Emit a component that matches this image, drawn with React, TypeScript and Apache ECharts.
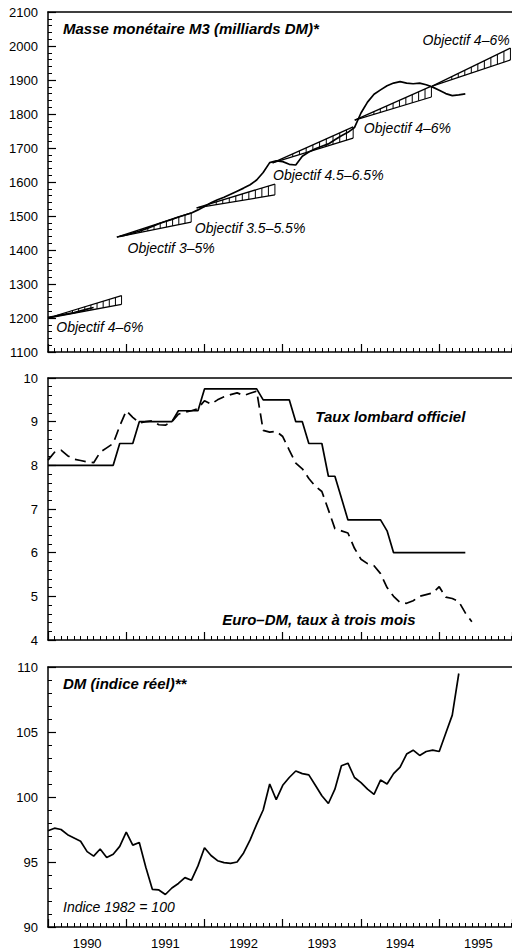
import React, { useEffect, useRef } from "react";
import * as echarts from "echarts";

// ---------- DATA ----------
const YEARS = [1990, 1991, 1992, 1993, 1994, 1995];

// M3 money stock (billion DM), monthly; index k = months after Dec 1989
const m3EarlyStart = 0;
const m3Early = [1202, 1205, 1209, 1212, 1216, 1221, 1226, 1231];
const m3LateStart = 11;
const m3Late = [
  1440, 1444, 1450, 1455, 1462, 1469, 1477, 1484, 1490, 1497, 1503, 1509,
  1518, 1528, 1539, 1548, 1555, 1564, 1573, 1582, 1592, 1606, 1628, 1657,
  1662, 1660, 1652, 1650, 1676, 1688, 1698, 1705, 1712, 1724, 1736, 1746,
  1760, 1803, 1835, 1858, 1871, 1883, 1891, 1895, 1891, 1889, 1891, 1886,
  1879, 1870, 1860, 1854, 1856, 1859,
];

// Target corridors: start date, end date, base value, lower end, upper end
const corridorStart = [1990.0, 1990.88, 1991.9, 1992.87, 1993.92, 1994.91];
const corridorEnd = [1990.94, 1991.83, 1992.9, 1993.9, 1994.9, 1995.91];
const corridorBase = [1200, 1438, 1524, 1656, 1782, 1882];
const corridorLow = [1240, 1482, 1562, 1729, 1850, 1959];
const corridorHigh = [1266, 1509, 1594, 1762, 1882, 1994];
const corridorNames = [
  "Objectif 4–6%",
  "Objectif 3–5%",
  "Objectif 3.5–5.5%",
  "Objectif 4.5–6.5%",
  "Objectif 4–6%",
  "Objectif 4–6%",
];
const corridorLabelX = [1990.1, 1991.01, 1991.87, 1992.87, 1994.03, 1994.78];
const corridorLabelY = [1173, 1406, 1465, 1621, 1759, 2018];

// Interest rates (%), monthly from Dec 1989
const lombardStart = 0;
const lombard = [
  8, 8, 8, 8, 8, 8, 8, 8, 8, 8, 8, 8.5, 8.5, 8.5, 9, 9, 9, 9, 9, 9, 9.25,
  9.25, 9.25, 9.25, 9.75, 9.75, 9.75, 9.75, 9.75, 9.75, 9.75, 9.75, 9.75, 9.5,
  9.5, 9.5, 9.5, 9.5, 9, 9, 8.5, 8.5, 8.5, 7.75, 7.75, 7.25, 6.75, 6.75, 6.75,
  6.75, 6.75, 6.75, 6.5, 6, 6, 6, 6, 6, 6, 6, 6, 6, 6, 6, 6,
];
const euroDmStart = 0;
const euroDm = [
  8.12, 8.3, 8.35, 8.22, 8.14, 8.11, 8.08, 8.06, 8.3, 8.4, 8.5, 8.9, 9.25,
  9.1, 8.97, 9.0, 9.02, 8.93, 8.92, 9.0, 9.17, 9.22, 9.25, 9.3, 9.48, 9.4,
  9.5, 9.57, 9.62, 9.66, 9.6, 9.65, 9.7, 8.8, 8.76, 8.78, 8.66, 8.35, 8.05,
  7.92, 7.7, 7.52, 7.4, 6.98, 6.55, 6.5, 6.45, 6.1, 5.85, 5.75, 5.7, 5.52,
  5.2, 5.0, 4.86, 4.84, 4.9, 5.0, 5.04, 5.08, 5.22, 4.98, 4.95, 4.88, 4.62,
  4.42,
];

// DM real effective index (1982 = 100), monthly from Dec 1989
const dmRealStart = 0;
const dmReal = [
  97.4, 97.6, 97.5, 97.1, 96.85, 96.6, 95.8, 95.45, 96.0, 95.35, 95.6, 96.2,
  97.3, 96.3, 96.5, 94.6, 92.9, 92.85, 92.5, 93.0, 93.35, 93.8, 93.6, 94.7,
  96.1, 95.5, 95.1, 94.95, 94.9, 95.0, 95.7, 96.7, 97.9, 99.0, 101.0, 99.8,
  100.9, 101.5, 102.0, 101.8, 101.7, 100.9, 100.1, 99.5, 100.6, 102.4, 102.6,
  101.5, 101.1, 100.6, 100.2, 101.3, 101.0, 101.8, 102.3, 103.3, 103.6, 103.2,
  103.5, 103.6, 103.5, 104.9, 106.3, 109.5,
];

const rateLabels = ["Taux lombard officiel", "Euro–DM, taux à trois mois"];
const rateLabelX = [1993.41, 1992.22];
const rateLabelY = [9.11, 4.46];

const m3Ticks = { min: 1100, max: 2100, interval: 100 };
const rateTicks = { min: 4, max: 10, interval: 1 };
const dmTicks = { min: 90, max: 110, interval: 5 };

// ---------- HELPERS ----------
const monthX = (k: number) => 1990 + k / 12;
const toPairs = (start: number, vals: number[]) =>
  vals.map((v, i) => [monthX(start + i), v]);

const FONT = '"Liberation Sans", Arial, Helvetica, sans-serif';
const X_MIN = 1990;
const X_MAX = 1995.93;
const CLEAR = "rgba(0,0,0,0)";

export default function App() {
  const ref = useRef<HTMLDivElement>(null);

  useEffect(() => {
    if (!ref.current) return;
    const chart = echarts.init(ref.current, undefined, { renderer: "svg" });

    const grids = [
      { left: 48, top: 12, width: 464, height: 340 },
      { left: 48, top: 378, width: 464, height: 262 },
      { left: 48, top: 667, width: 464, height: 260 },
    ];

    const xAxes: any[] = [];
    grids.forEach((_, i) => {
      xAxes.push({
        type: "value",
        gridIndex: i,
        position: "bottom",
        min: X_MIN,
        max: X_MAX,
        interval: 1,
        axisLine: { show: true, lineStyle: { color: "#000", width: 1.5 } },
        axisTick: { show: true, inside: true, length: 8, lineStyle: { color: "#000", width: 1.2 } },
        minorTick: { show: true, splitNumber: 12, length: 4, lineStyle: { color: "#000", width: 1 } },
        splitLine: { show: false },
        axisLabel:
          i === 2
            ? {
                show: true,
                customValues: YEARS.map((y) => y + 0.5),
                formatter: (v: number) => String(Math.floor(v)),
                color: "#000",
                fontSize: 13,
                fontFamily: FONT,
                margin: 10,
              }
            : { show: false },
      });
      xAxes.push({
        type: "value",
        gridIndex: i,
        position: "top",
        min: X_MIN,
        max: X_MAX,
        axisLine: { show: true, lineStyle: { color: "#000", width: 1.5 } },
        axisTick: { show: false },
        axisLabel: { show: false },
        splitLine: { show: false },
      });
    });

    const yCfg = (i: number, t: { min: number; max: number; interval: number }) => ({
      type: "value",
      gridIndex: i,
      min: t.min,
      max: t.max,
      interval: t.interval,
      axisLine: { show: true, lineStyle: { color: "#000", width: 1.5 } },
      axisTick: { show: true, inside: true, length: 8, lineStyle: { color: "#000", width: 1.2 } },
      minorTick: { show: true, splitNumber: 5, length: 4, lineStyle: { color: "#000", width: 1 } },
      splitLine: { show: false },
      axisLabel: {
        color: "#000",
        fontSize: 13,
        fontFamily: FONT,
        margin: 10,
        formatter: (v: number) => String(v),
      },
    });

    const corridorData = corridorStart.map((s, i) => [
      s,
      corridorEnd[i],
      corridorBase[i],
      corridorLow[i],
      corridorHigh[i],
    ]);

    const lineStyleBase = { color: "#000", width: 1.7 };

    const option: any = {
      animation: false,
      backgroundColor: "#fff",
      grid: grids,
      xAxis: xAxes,
      yAxis: [yCfg(0, m3Ticks), yCfg(1, rateTicks), yCfg(2, dmTicks)],
      graphic: [
        {
          type: "text",
          x: 63,
          y: 28,
          style: {
            text: "Masse monétaire M3 (milliards DM)*",
            font: `italic bold 15px ${FONT}`,
            fill: "#000",
            verticalAlign: "middle",
          },
        },
        {
          type: "text",
          x: 63,
          y: 683,
          style: {
            text: "DM (indice réel)**",
            font: `italic bold 15px ${FONT}`,
            fill: "#000",
            verticalAlign: "middle",
          },
        },
        {
          type: "text",
          x: 63,
          y: 907,
          style: {
            text: "Indice 1982 = 100",
            font: `italic 14px ${FONT}`,
            fill: "#000",
            verticalAlign: "middle",
          },
        },
      ],
      series: [
        {
          type: "custom",
          xAxisIndex: 0,
          yAxisIndex: 0,
          encode: { x: [0, 1], y: [2, 3, 4] },
          data: corridorData,
          silent: true,
          renderItem: (_params: any, api: any) => {
            const s = api.value(0);
            const e = api.value(1);
            const b = api.value(2);
            const lo = api.value(3);
            const hi = api.value(4);
            const p0 = api.coord([s, b]);
            const pl = api.coord([e, lo]);
            const ph = api.coord([e, hi]);
            const st = { stroke: "#000", lineWidth: 1.3, fill: null };
            const children: any[] = [
              { type: "polyline", shape: { points: [p0, pl] }, style: st },
              { type: "polyline", shape: { points: [p0, ph] }, style: st },
            ];
            const n = 12;
            for (let j = 3; j <= n; j++) {
              const t = j / n;
              children.push({
                type: "line",
                shape: {
                  x1: p0[0] + t * (pl[0] - p0[0]),
                  y1: p0[1] + t * (pl[1] - p0[1]),
                  x2: p0[0] + t * (ph[0] - p0[0]),
                  y2: p0[1] + t * (ph[1] - p0[1]),
                },
                style: { stroke: "#000", lineWidth: 1 },
              });
            }
            return { type: "group", children };
          },
        },
        {
          type: "line",
          xAxisIndex: 0,
          yAxisIndex: 0,
          data: toPairs(m3EarlyStart, m3Early),
          showSymbol: false,
          lineStyle: lineStyleBase,
          silent: true,
        },
        {
          type: "line",
          xAxisIndex: 0,
          yAxisIndex: 0,
          data: toPairs(m3LateStart, m3Late),
          showSymbol: false,
          lineStyle: lineStyleBase,
          silent: true,
        },
        {
          type: "scatter",
          xAxisIndex: 0,
          yAxisIndex: 0,
          symbolSize: 1,
          itemStyle: { color: CLEAR, opacity: 1 },
          silent: true,
          data: corridorNames.map((nm, i) => ({
            name: nm,
            value: [corridorLabelX[i], corridorLabelY[i]],
          })),
          label: {
            show: true,
            position: "right",
            distance: 0,
            formatter: "{b}",
            color: "#000",
            opacity: 1,
            fontStyle: "italic",
            fontSize: 14,
            fontFamily: FONT,
          },
        },
        {
          type: "line",
          xAxisIndex: 2,
          yAxisIndex: 1,
          data: toPairs(lombardStart, lombard),
          showSymbol: false,
          lineStyle: lineStyleBase,
          silent: true,
        },
        {
          type: "line",
          xAxisIndex: 2,
          yAxisIndex: 1,
          data: toPairs(euroDmStart, euroDm),
          showSymbol: false,
          lineStyle: { color: "#000", width: 1.7, type: [11, 6] },
          silent: true,
        },
        {
          type: "scatter",
          xAxisIndex: 2,
          yAxisIndex: 1,
          symbolSize: 1,
          itemStyle: { color: CLEAR, opacity: 1 },
          silent: true,
          data: rateLabels.map((nm, i) => ({
            name: nm,
            value: [rateLabelX[i], rateLabelY[i]],
          })),
          label: {
            show: true,
            position: "right",
            distance: 0,
            formatter: "{b}",
            color: "#000",
            opacity: 1,
            fontStyle: "italic",
            fontWeight: "bold",
            fontSize: 15,
            fontFamily: FONT,
          },
        },
        {
          type: "line",
          xAxisIndex: 4,
          yAxisIndex: 2,
          data: toPairs(dmRealStart, dmReal),
          showSymbol: false,
          lineStyle: lineStyleBase,
          silent: true,
        },
      ],
    };

    chart.setOption(option);
    return () => chart.dispose();
  }, []);

  return (
    <div
      ref={ref}
      style={{ position: "absolute", left: 0, top: 0, width: 512, height: 950, background: "#fff" }}
    />
  );
}
